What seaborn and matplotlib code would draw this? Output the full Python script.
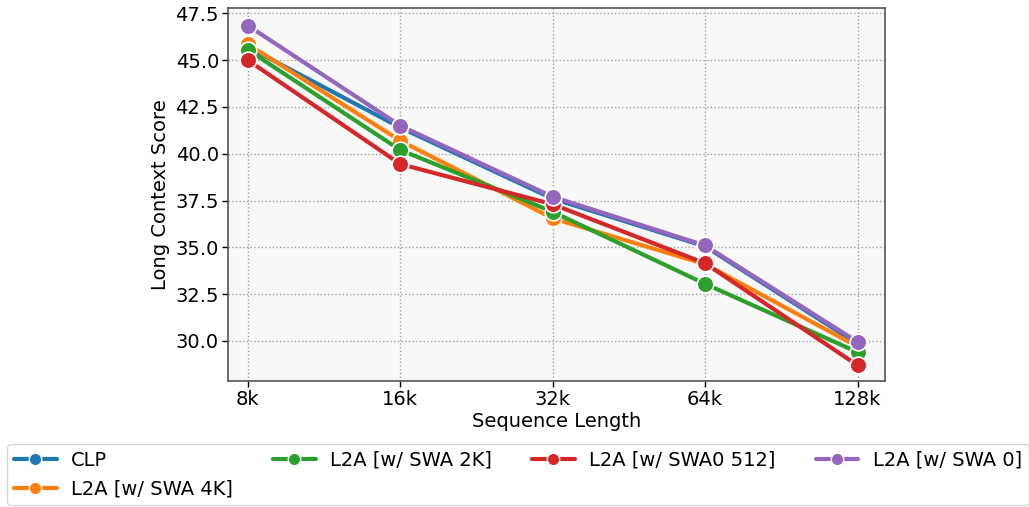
import matplotlib
matplotlib.use("Agg")
import matplotlib.pyplot as plt
import seaborn as sns
import pandas as pd

seq_lengths = ["8k", "16k", "32k", "64k", "128k"]
series_names = ["CLP", "L2A [w/ SWA 4K]", "L2A [w/ SWA 2K]", "L2A [w/ SWA0 512]", "L2A [w/ SWA 0]"]
clp = [45.7, 41.4, 37.6, 35.05, 29.85]
swa_4k = [45.85, 40.7, 36.55, 34.1, 29.7]
swa_2k = [45.55, 40.2, 36.9, 33.05, 29.4]
swa0_512 = [45.0, 39.45, 37.3, 34.15, 28.7]
swa_0 = [46.85, 41.5, 37.7, 35.1, 29.95]
colors = ["#1f77b4", "#ff7f0e", "#2ca02c", "#d62728", "#9467bd"]

rows = []
for name, vals in zip(series_names, [clp, swa_4k, swa_2k, swa0_512, swa_0]):
    for i, (x, v) in enumerate(zip(seq_lengths, vals)):
        rows.append({"Sequence Length": x, "idx": i, "Long Context Score": v, "Model": name})
df = pd.DataFrame(rows)

sns.set_style("white")
plt.rcParams['font.family'] = ['DejaVu Sans']
plt.rcParams['text.color'] = 'black'
plt.rcParams['axes.labelcolor'] = 'black'
plt.rcParams['xtick.color'] = 'black'
plt.rcParams['ytick.color'] = 'black'

fig = plt.figure(figsize=(10.29, 5.07), dpi=100)
ax = fig.add_axes([0.2216, 0.2485, 0.6384, 0.7355])
ax.set_facecolor("#f8f8f8")

sns.lineplot(data=df, x="idx", y="Long Context Score", hue="Model", hue_order=series_names,
             palette=colors, marker="o", markersize=12, linewidth=3,
             markeredgecolor="white", markeredgewidth=1.2, ax=ax, legend=True)

ax.set_xticks(range(len(seq_lengths)))
ax.set_xticklabels(seq_lengths)
ax.set_xlim(-0.13, 4.18)
ax.set_ylim(27.86, 47.78)
ax.set_yticks([30.0, 32.5, 35.0, 37.5, 40.0, 42.5, 45.0, 47.5])
ax.set_yticklabels(["30.0", "32.5", "35.0", "37.5", "40.0", "42.5", "45.0", "47.5"])
ax.tick_params(axis="both", labelsize=14, length=4, width=1, colors="black", direction="out",
               bottom=True, left=True, pad=2.5)
ax.set_xlabel("Sequence Length", fontsize=14, labelpad=2, color="black")
ax.set_ylabel("Long Context Score", fontsize=14, color="black")
ax.grid(True, linestyle=":", color="#a0a0a0", linewidth=1)
for s in ax.spines.values():
    s.set_color("#555555")
    s.set_linewidth(1.2)

handles, labels = ax.get_legend_handles_labels()
ax.get_legend().remove()
leg = fig.legend(handles, labels, loc="upper left", bbox_to_anchor=(7 / 1029, 1 - 444 / 507), ncol=4,
                 fontsize=14, frameon=True, columnspacing=2.05, handlelength=2.2,
                 handletextpad=0.75, borderaxespad=0.0, borderpad=0.35)
for h in leg.legend_handles:
    h.set_markersize(9)
    h.set_markeredgewidth(1)
for t in leg.get_texts():
    t.set_color("black")

fig.savefig("out.png", dpi=100)
